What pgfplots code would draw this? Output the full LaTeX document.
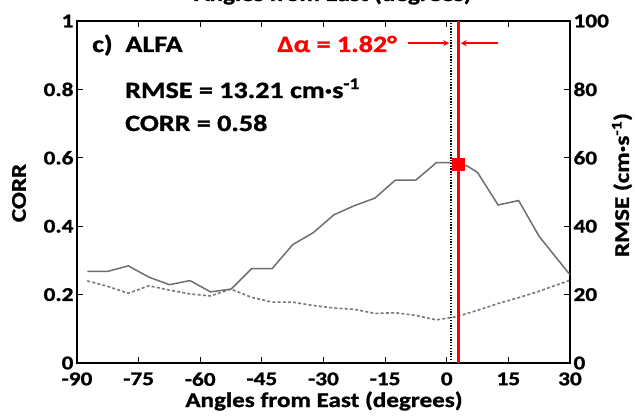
\documentclass[border=0pt]{standalone}
\usepackage{fontspec}
\setmainfont{Carlito}[FakeStretch=1.2, BoldFeatures={FakeBold=1.2}]
\usepackage{pgfplots}
\pgfplotsset{compat=1.18}
\usetikzlibrary{arrows.meta}

\definecolor{corrgray}{RGB}{110,110,110}
\definecolor{rmsegray}{RGB}{120,120,120}
\definecolor{markred}{RGB}{255,0,0}

\newcommand{\ticksize}{\fontsize{19.5}{20}\selectfont\bfseries}
\newcommand{\labelsize}{\fontsize{21}{22}\selectfont\bfseries}
\newcommand{\notesize}{\fontsize{23.5}{25}\selectfont\bfseries}

\pgfplotsset{
  panel/.style={
    at={(0bp,0bp)}, anchor=south west,
    scale only axis, width=493bp, height=342bp,
    xmin=-90, xmax=30,
    tick align=inside,
    major tick length=6bp,
    every tick/.style={black, line width=1.2bp},
    axis line style={line width=2.6bp},
    tick label style={font=\ticksize},
    xticklabel shift=6bp,
    /pgf/number format/assume math mode=true,
    clip=true,
  },
}

\begin{document}
\begin{tikzpicture}
% RMSE, right-hand axis (cm/s)
\begin{axis}[panel,
  ymin=0, ymax=100,
  axis y line*=right, axis x line=none,
  ytick={0,20,40,60,80,100},
  yticklabels={0,20,40,60,80,100},
]
\addplot[rmsegray, line width=1.6bp, dash pattern=on 3bp off 2.2bp] coordinates {
  (-87.5,24.0) (-82.5,22.4) (-77.5,20.4) (-72.5,22.6) (-67.5,21.3)
  (-62.5,20.2) (-57.5,19.6) (-52.5,21.6) (-47.5,19.2) (-42.5,17.8)
  (-37.5,17.8) (-32.5,16.8) (-27.5,16.1) (-22.5,15.7) (-17.5,14.5)
  (-12.5,14.7) (-7.5,13.9) (-2.5,12.6) (2.5,13.6) (7.5,15.4)
  (12.5,17.4) (17.5,19.1) (22.5,21.0) (30,24.2)
};
\end{axis}

% CORR, left-hand axis
\begin{axis}[panel,
  ymin=0, ymax=1,
  ytick={0,0.2,0.4,0.6,0.8,1},
  yticklabels={0,0.2,0.4,0.6,0.8,1},
  ytick pos=left,
  xtick={-90,-75,-60,-45,-30,-15,0,15,30},
  xticklabels={-90,-75,-60,-45,-30,-15,0,15,30},
  xtick pos=both,
]
\addplot[corrgray, line width=1.5bp] coordinates {
  (-87.5,0.268) (-82.5,0.268) (-77.5,0.284) (-72.5,0.251) (-67.5,0.229)
  (-62.5,0.241) (-57.5,0.208) (-52.5,0.216) (-47.5,0.276) (-42.5,0.276)
  (-37.5,0.346) (-32.5,0.381) (-27.5,0.433) (-22.5,0.460) (-17.5,0.482)
  (-12.5,0.535) (-7.5,0.535) (-2.5,0.586) (0.5,0.586) (5,0.576)
  (7.5,0.557) (12.5,0.462) (17.5,0.475) (22.5,0.370) (30,0.258)
};
% reference direction (dotted) and best direction (red)
\addplot[black, line width=1.4bp, dash pattern=on 1.3bp off 1.5bp] coordinates {(1.0,0) (1.0,1)};
\addplot[markred, line width=2.6bp] coordinates {(2.82,0) (2.82,1)};
\addplot[only marks, mark=square*, mark size=6bp, markred] coordinates {(2.82,0.58)};
% offset arrows
\draw[markred, line width=1.8bp, -{Stealth[length=6bp,width=6bp,inset=2bp]}]
  (axis cs:-9.4,0.935) -- (axis cs:0.6,0.935);
\draw[markred, line width=1.8bp, -{Stealth[length=6bp,width=6bp,inset=2bp]}]
  (axis cs:12.5,0.935) -- (axis cs:3.4,0.935);
\end{axis}

% panel annotations
\node[anchor=base west, inner sep=0pt, font=\notesize] at (15bp,311bp) {c)\ \ ALFA};
\node[anchor=base east, inner sep=0pt, font=\notesize, text=markred] at (320bp,311bp) {Δα = 1.82°};
\node[anchor=base west, inner sep=0pt, font=\notesize] at (48bp,265bp) {RMSE = 13.21 cm·s\textsuperscript{-1}};
\node[anchor=base west, inner sep=0pt, font=\notesize] at (48bp,232bp) {CORR = 0.58};

% axis titles
\node[rotate=90, inner sep=0pt, font=\labelsize] at (-58bp,170bp) {CORR};
\node[rotate=90, inner sep=0pt, font=\labelsize] at (545bp,178bp) {RMSE (cm·s\textsuperscript{-1})};
\node[anchor=base, inner sep=0pt, font=\labelsize] at (247bp,-44bp) {Angles from East (degrees)};
% x title of the panel above, cut by the page edge
\node[anchor=base, inner sep=0pt, font=\labelsize] at (256bp,362bp) {Angles from East (degrees)};

\pgfresetboundingbox
\useasboundingbox (-77bp,-54bp) rectangle (558bp,363bp);
\end{tikzpicture}
\end{document}
